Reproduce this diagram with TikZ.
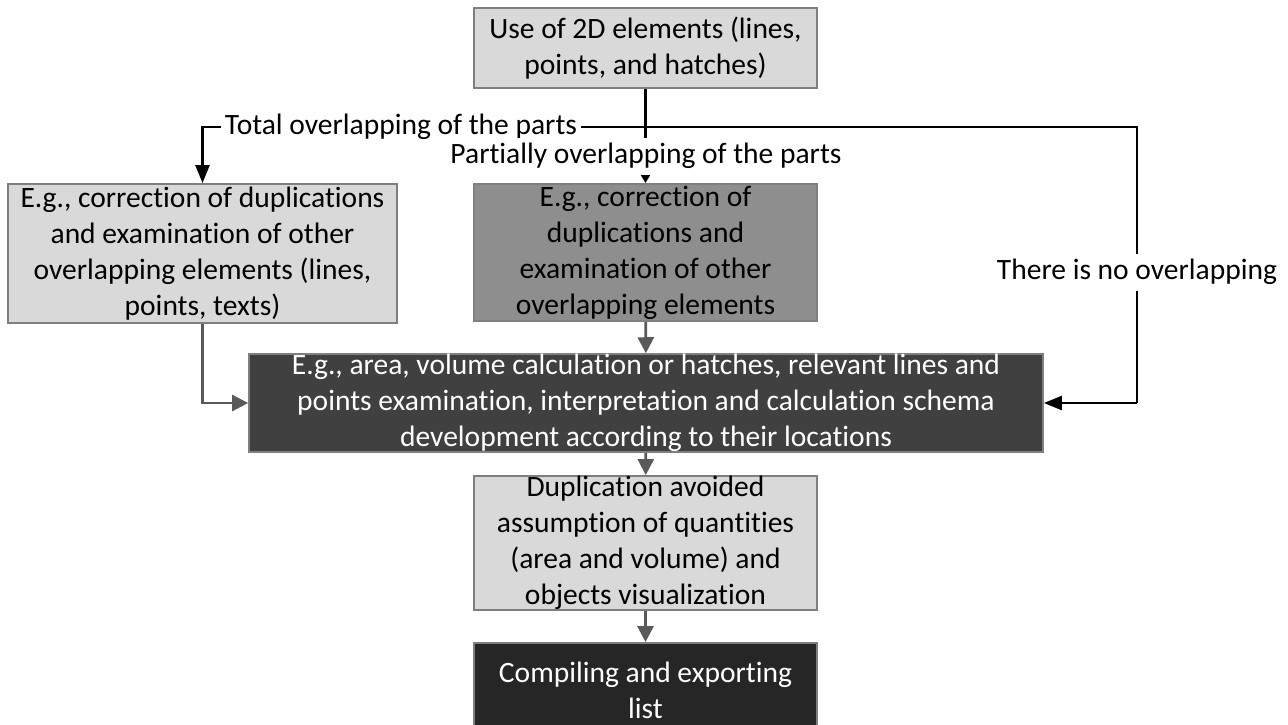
\documentclass[tikz,border=0pt]{standalone}
\usepackage{fontspec}
\setmainfont{Carlito}[Ligatures=NoCommon]
\usepackage{pgf, tikz}
\usetikzlibrary{arrows.meta}
\pgfdeclarelayer{edgelayer}
\pgfdeclarelayer{nodelayer}
\pgfsetlayers{edgelayer,nodelayer,main}
\definecolor{boxline}{HTML}{7F7F7F}
\definecolor{lightfill}{HTML}{D9D9D9}
\definecolor{midfill}{HTML}{8E8E8E}
\definecolor{darkfill}{HTML}{404040}
\definecolor{blackfill}{HTML}{262626}
\definecolor{grayarrow}{HTML}{5A5A5A}
\newcommand{\flowfont}{\fontsize{16.8}{20.5}\selectfont}
\tikzstyle{edge}=[draw=black, line width=1.4pt, -{Triangle[length=0.36cm, width=0.28cm]}]
\tikzstyle{smalledge}=[draw=black, line width=1.4pt, -{Triangle[length=0.18cm, width=0.2cm]}]
\tikzstyle{grayedge}=[draw=grayarrow, line width=1.6pt, -{Triangle[length=0.32cm, width=0.32cm]}]
\tikzstyle{plainedge}=[draw=black, line width=1.4pt]
\tikzstyle{box}=[rectangle, draw=boxline, line width=1.1pt, align=center, inner sep=0pt, font=\flowfont]
\tikzstyle{lightbox}=[box, fill=lightfill]
\tikzstyle{midbox}=[box, fill=midfill]
\tikzstyle{darkbox}=[box, fill=darkfill, text=white]
\tikzstyle{blackbox}=[box, fill=blackfill, text=white]
\tikzstyle{label}=[fill=white, inner xsep=2pt, inner ysep=0pt, minimum height=0.74cm, font=\flowfont]

\begin{document}
\begin{tikzpicture}[x=0.02cm, y=-0.02cm]
				\useasboundingbox (0, 0) rectangle (1288, 724);
				\begin{pgfonlayer}{nodelayer}
					\node [style=lightbox, minimum width=6.86cm, minimum height=1.6cm] (0) at (645.5, 48) {Use of 2D elements (lines,\\ points, and hatches)};
					\node [style=lightbox, minimum width=7.78cm, minimum height=2.78cm] (1) at (202.5, 253.5) {E.g., correction of duplications\\ and examination of other\\ overlapping elements (lines,\\ points, texts)};
					\node [style=midbox, minimum width=6.86cm, minimum height=2.74cm] (2) at (645.5, 252.5) {E.g., correction of\\ duplications and\\ examination of other\\ overlapping elements};
					\node [style=darkbox, minimum width=15.88cm, minimum height=1.92cm] (3) at (646, 403) {E.g., area, volume calculation or hatches, relevant lines and\\ points examination, interpretation and calculation schema\\ development according to their locations};
					\node [style=lightbox, minimum width=6.86cm, minimum height=2.68cm] (4) at (645.5, 543) {Duplication avoided\\ assumption of quantities\\ (area and volume) and\\ objects visualization};
					\node [style=blackbox, minimum width=6.86cm, minimum height=1.88cm] (5) at (645.5, 690) {Compiling and exporting\\ list};
					\node [style=label] (6) at (401, 127) {Total overlapping of the parts};
					\node [style=label] (7) at (646, 156) {Partially overlapping of the parts};
					\node [style=label] (8) at (1137, 272) {There is no overlapping};
					\coordinate (9) at (645.5, 127);
					\coordinate (10) at (1137, 403);
				\end{pgfonlayer}
				\begin{pgfonlayer}{edgelayer}
					\draw [style=smalledge] (0) to (2);
					\draw [style=edge] (9) -| (1);
					\draw [style=plainedge] (9) -| (10);
					\draw [style=edge] (10) to (3);
					\draw [style=grayedge] (1) |- (3);
					\draw [style=grayedge] (2) to (3);
					\draw [style=grayedge] (3) to (4);
					\draw [style=grayedge] (4) to (5);
				\end{pgfonlayer}
			\end{tikzpicture}
\end{document}
